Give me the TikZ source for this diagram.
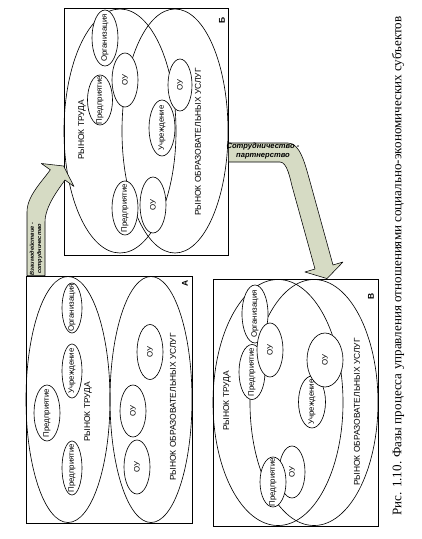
\documentclass[tikz,border=0pt]{standalone}
\usepackage{fontspec}
\setmainfont{Liberation Serif}
\setsansfont{Liberation Sans}
\usepackage{tikz}
\usetikzlibrary{calc, shapes.geometric, positioning}
\definecolor{flowgreen}{RGB}{214,219,196}
\newcommand{\inell}[1]{\makebox[0pt]{#1}}

\begin{document}
\begin{tikzpicture}[x=0.25mm, y=-0.25mm,
    panel/.style={draw, line width=0.6pt, inner sep=0pt, minimum height=61.75mm},
    market/.style={draw, ellipse, line width=0.45pt, inner sep=0pt, minimum height=61.5mm},
    unit/.style={draw, ellipse, fill=white, line width=0.45pt, inner sep=0pt, rotate=90,
        font=\sffamily\fontsize{5.6}{6}\selectfont, minimum width=13.5mm, minimum height=6.5mm},
    tag/.style={rotate=90, font=\sffamily\fontsize{6}{7}\selectfont},
    panelid/.style={rotate=90, font=\sffamily\bfseries\fontsize{6}{7}\selectfont},
    flow/.style={draw, fill=flowgreen, line width=0.4pt, line join=round},
    flowtext/.style={font=\sffamily\bfseries\itshape\fontsize{5.4}{6.2}\selectfont, align=center}]
    \useasboundingbox (0,0) rectangle (421,539);

    % Фаза А
    \node[panel, minimum width=41.5mm] (boxA) at (109,399.5) {};
    \node[market, minimum width=21mm] (aLabor) at (68,399.5) {};
    \node[market, minimum width=20.5mm] (aEdu) at (151,399.5) {};
    \node[unit, minimum width=12.5mm, minimum height=5mm] (aOrg) at (72,308) {\inell{Организация}};
    \node[unit, minimum height=5mm] (aInst) at (72,371) {\inell{Учреждение}};
    \node[unit, minimum width=14mm] (aEnt1) at (47,413) {\inell{Предприятие}};
    \node[unit, minimum height=5mm] (aEnt2) at (72,468) {\inell{Предприятие}};
    \node[unit, minimum width=13.75mm] (aOu1) at (150,352) {\inell{ОУ}};
    \node[unit, minimum width=13mm] (aOu2) at (133,411) {\inell{ОУ}};
    \node[unit] (aOu3) at (137,467) {\inell{ОУ}};
    \node[tag] (aLaborTxt) at (88,412) {РЫНОК ТРУДА};
    \node[tag] (aEduTxt) at (173,407) {РЫНОК ОБРАЗОВАТЕЛЬНЫХ УСЛУГ};
    \node[panelid] (aId) at (185,283) {А};

    % Фаза Б
    \node[panel, minimum width=41mm] (boxB) at (146,131.5) {};
    \node[market, minimum width=28mm, minimum height=61mm] (bLabor) at (120,131) {};
    \node[market, minimum width=26.5mm, minimum height=61mm] (bEdu) at (175,131) {};
    \node[unit, minimum width=14mm] (bOrg) at (105,38) {\inell{Организация}};
    \node[unit, minimum width=12.5mm, minimum height=6.25mm] (bEnt1) at (100,100) {\inell{Предприятие}};
    \node[unit] (bOu1) at (125,80) {\inell{ОУ}};
    \node[unit, minimum width=13mm, minimum height=6mm] (bOu2) at (180,85) {\inell{ОУ}};
    \node[unit, minimum width=14mm] (bInst) at (162,128) {\inell{Учреждение}};
    \node[unit] (bEnt2) at (125,208) {\inell{Предприятие}};
    \node[unit, minimum width=14mm] (bOu3) at (153,205) {\inell{ОУ}};
    \node[tag] (bLaborTxt) at (82,130) {РЫНОК ТРУДА};
    \node[tag] (bEduTxt) at (198,142) {РЫНОК ОБРАЗОВАТЕЛЬНЫХ УСЛУГ};
    \node[panelid] (bId) at (222,20) {Б};

    % Фаза В
    \node[panel, minimum width=41.25mm] (boxC) at (295.5,402.5) {};
    \node[market, minimum width=32.5mm] (cLabor) at (278,402.5) {};
    \node[market, minimum width=32mm] (cEdu) at (314,402.5) {};
    \node[unit, minimum width=14.5mm] (cOrg) at (255,314) {\inell{Организация}};
    \node[unit, minimum width=13.75mm] (cEnt1) at (252,372) {\inell{Предприятие}};
    \node[unit] (cOu1) at (270,350) {\inell{ОУ}};
    \node[unit, minimum width=13mm, minimum height=6.75mm] (cInst) at (312,402) {\inell{Учреждение}};
    \node[unit, minimum height=9mm] (cOu2) at (325,360) {\inell{ОУ}};
    \node[unit, minimum width=13mm] (cOu3) at (292,472) {\inell{ОУ}};
    \node[unit, minimum width=12.5mm] (cEnt2) at (273,482) {\inell{Предприятие}};
    \node[tag] (cLaborTxt) at (227,401) {РЫНОК ТРУДА};
    \node[tag] (cEduTxt) at (357,412) {РЫНОК ОБРАЗОВАТЕЛЬНЫХ УСЛУГ};
    \node[panelid] (cId) at (371,296) {В};

    % Переходы между фазами
    \draw[flow] (27,0 |- boxA.north) -- (27,212) .. controls (27,196) and (41.7,182) .. (50.3,169.8)
        -- (41.3,163.5) -- (boxB.west |- 0,166) -- (74,186.5) -- (65,180)
        .. controls (59.3,188.2) and (45,206) .. (45,222) -- (45,0 |- boxA.north) -- cycle;
    \node[flowtext, rotate=90, font=\sffamily\bfseries\itshape\fontsize{4}{5.2}\selectfont]
        (abTxt) at (36,249) {Взаимодействие -\\сотрудничество};

    \draw[flow] (boxB.east |- 0,143) -- (288,143) .. controls (300,143) and (305,164) .. (309,178)
        -- (333,265) -- (343,262) -- (327,0 |- boxC.north) -- (305,272) -- (315,269) -- (292,186)
        .. controls (290,178) and (287,162) .. (280,162) -- (boxB.east |- 0,162) -- cycle;
    \node[flowtext] (bcTxt) at (263,151) {Сотрудничество -\\партнерство};

    % Подпись
    \node[rotate=90, font=\fontsize{9.3}{11}\selectfont] (caption) at (398,266)
        {Рис. 1.10. Фазы процесса управления отношениями социально-экономических субъектов};
\end{tikzpicture}
\end{document}
